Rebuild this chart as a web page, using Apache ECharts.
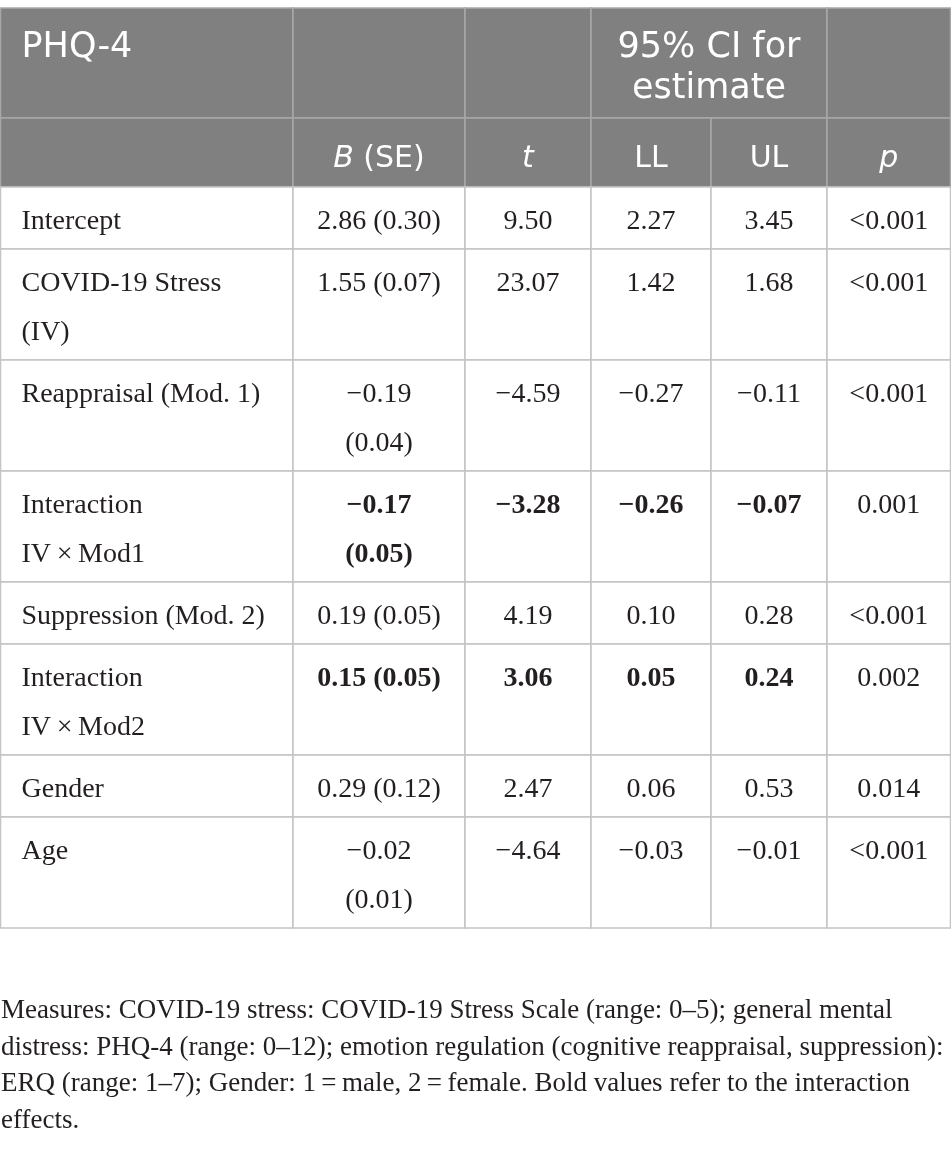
<!DOCTYPE html>
<html lang="en" style="height: 100%">
<head>
  <meta charset="utf-8">
</head>
<body style="height: 100%; margin: 0; background: #fff">
  <div id="container" style="width: 951px; height: 1149px"></div>
  <script src="https://cdn.jsdelivr.net/npm/echarts@6/dist/echarts.min.js"></script>
  <script>
    // table content
    const rowLabels = [
      ['Intercept'],
      ['COVID-19 Stress', '(IV)'],
      ['Reappraisal (Mod. 1)'],
      ['Interaction', 'IV\u2009\u00d7\u2009Mod1'],
      ['Suppression (Mod. 2)'],
      ['Interaction', 'IV\u2009\u00d7\u2009Mod2'],
      ['Gender'],
      ['Age']
    ];
    const estB = [2.86, 1.55, -0.19, -0.17, 0.19, 0.15, 0.29, -0.02];
    const estSE = [0.30, 0.07, 0.04, 0.05, 0.05, 0.05, 0.12, 0.01];
    const tVals = [9.50, 23.07, -4.59, -3.28, 4.19, 3.06, 2.47, -4.64];
    const ciLL = [2.27, 1.42, -0.27, -0.26, 0.10, 0.05, 0.06, -0.03];
    const ciUL = [3.45, 1.68, -0.11, -0.07, 0.28, 0.24, 0.53, -0.01];
    const pVals = ['<0.001', '<0.001', '<0.001', '0.001', '<0.001', '0.002', '0.014', '<0.001'];
    const boldRows = [false, false, false, true, false, true, false, false];

    const headTitle = 'PHQ-4';
    const headCI = ['95% CI for', 'estimate'];
    const headCols = ['{i|B} (SE)', '{i|t}', 'LL', 'UL', '{i|p}'];

    const noteLines = [
      'Measures: COVID-19 stress: COVID-19 Stress Scale (range: 0\u20135); general mental',
      'distress: PHQ-4 (range: 0\u201312); emotion regulation (cognitive reappraisal, suppression):',
      'ERQ (range: 1\u20137); Gender: 1\u2009=\u2009male, 2\u2009=\u2009female. Bold values refer to the interaction',
      'effects.'
    ];

    // layout
    const colEdges = [0.5, 293, 465, 591, 711, 827, 950.5];
    const tableTop = 8;
    const HEAD = { base: 49, step: 41, bottom: 20, big: 35, small: 30 };
    const BODY = { base: 42, step: 49, bottom: 20, size: 28 };
    const NOTE = { top: 1018, step: 36.5, size: 27 };
    const midShift = 0.25; // baseline minus this * fontSize gives the middle anchor
    const headFill = '#808080';
    const headLine = '#a8a8a8';
    const bodyLine = '#c4c4c4';
    const ink = '#231f20';
    const sans = '"DejaVu Sans", sans-serif';
    const serif = '"Liberation Serif", serif';

    const fmt = v => (v < 0 ? '\u2212' : '') + Math.abs(v).toFixed(2);

    const cells = [];
    let y = tableTop;

    // header row 1
    const h1 = HEAD.base + HEAD.step * (headCI.length - 1) + HEAD.bottom;
    const headRow1 = [
      { c0: 0, c1: 1, lines: [headTitle], align: 'left' },
      { c0: 1, c1: 2, lines: [] },
      { c0: 2, c1: 3, lines: [] },
      { c0: 3, c1: 5, lines: headCI },
      { c0: 5, c1: 6, lines: [] }
    ];
    headRow1.forEach(c => cells.push(Object.assign({ y0: y, y1: y + h1, head: true, size: HEAD.big }, c)));
    y += h1;

    // header row 2
    const h2 = HEAD.base + HEAD.bottom;
    cells.push({ c0: 0, c1: 1, y0: y, y1: y + h2, head: true, lines: [], size: HEAD.small });
    headCols.forEach((t, i) => cells.push({ c0: i + 1, c1: i + 2, y0: y, y1: y + h2, head: true, lines: [t], size: HEAD.small }));
    y += h2;

    // body rows
    rowLabels.forEach((label, r) => {
      const bse = estB[r] < 0
        ? [fmt(estB[r]), '(' + estSE[r].toFixed(2) + ')']
        : [fmt(estB[r]) + ' (' + estSE[r].toFixed(2) + ')'];
      const cols = [label, bse, [fmt(tVals[r])], [fmt(ciLL[r])], [fmt(ciUL[r])], [pVals[r]]];
      const n = Math.max.apply(null, cols.map(c => c.length));
      const h = BODY.base + BODY.step * (n - 1) + BODY.bottom;
      cols.forEach((lines, i) => cells.push({
        c0: i, c1: i + 1, y0: y, y1: y + h, head: false, lines: lines,
        align: i === 0 ? 'left' : 'center',
        bold: boldRows[r] && i >= 1 && i <= 4
      }));
      y += h;
    });

    const chart = echarts.init(document.getElementById('container'), null, { renderer: 'canvas' });

    chart.setOption({
      animation: false,
      grid: { left: 0, right: 0, top: 0, bottom: 0 },
      xAxis: { type: 'value', min: 0, max: 951, show: false },
      yAxis: { type: 'value', min: 0, max: 1149, inverse: true, show: false },
      series: [
        {
          type: 'custom',
          coordinateSystem: 'cartesian2d',
          data: cells.map(c => [colEdges[c.c0], c.y0, colEdges[c.c1], c.y1]),
          renderItem: function (params, api) {
            const c = cells[params.dataIndex];
            const p0 = api.coord([api.value(0), api.value(1)]);
            const p1 = api.coord([api.value(2), api.value(3)]);
            const children = [{
              type: 'rect',
              shape: { x: p0[0], y: p0[1], width: p1[0] - p0[0], height: p1[1] - p0[1] },
              style: { fill: c.head ? headFill : '#fff', stroke: c.head ? headLine : bodyLine, lineWidth: 1.5 }
            }];
            const size = c.head ? c.size : BODY.size;
            const base = c.head ? HEAD.base : BODY.base;
            const step = c.head ? HEAD.step : BODY.step;
            const tx = c.align === 'left' ? p0[0] + 21 : (p0[0] + p1[0]) / 2;
            c.lines.forEach((line, k) => {
              const baseline = p0[1] + base + step * k;
              children.push({
                type: 'text',
                style: {
                  text: line,
                  x: tx,
                  y: baseline - size * midShift,
                  align: c.align || 'center',
                  verticalAlign: 'middle',
                  fill: c.head ? '#ffffff' : ink,
                  fontFamily: c.head ? sans : serif,
                  fontSize: size,
                  fontWeight: c.bold ? 'bold' : 'normal',
                  rich: {
                    i: { fontStyle: 'italic', fontFamily: sans, fontSize: size, fill: '#ffffff' }
                  }
                }
              });
            });
            return { type: 'group', children: children };
          }
        },
        {
          type: 'custom',
          coordinateSystem: 'cartesian2d',
          data: noteLines.map((t, i) => [1, NOTE.top + NOTE.step * i]),
          renderItem: function (params, api) {
            const p = api.coord([api.value(0), api.value(1)]);
            return {
              type: 'text',
              style: {
                text: noteLines[params.dataIndex],
                x: p[0],
                y: p[1] - NOTE.size * midShift,
                align: 'left',
                verticalAlign: 'middle',
                fill: ink,
                fontFamily: serif,
                fontSize: NOTE.size
              }
            };
          }
        }
      ]
    });

    window.addEventListener('resize', chart.resize);
  </script>
</body>
</html>
